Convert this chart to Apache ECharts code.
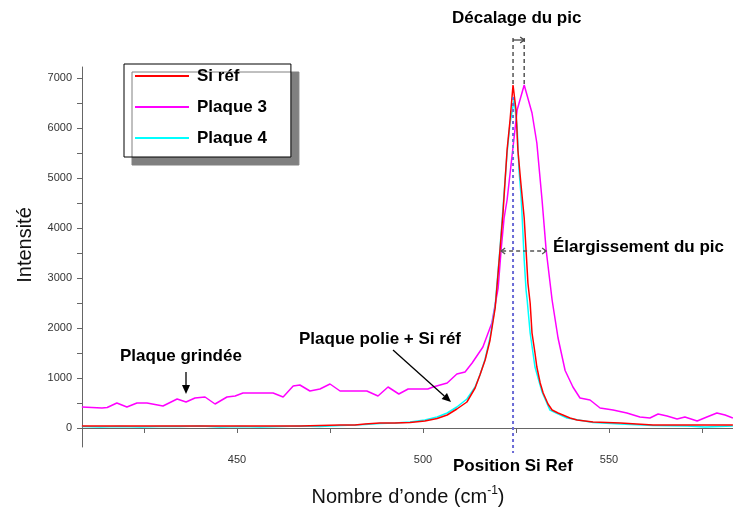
<!DOCTYPE html>
<html><head><meta charset="utf-8">
<script src="https://cdn.jsdelivr.net/npm/echarts@6/dist/echarts.min.js"></script>
<style>html,body{margin:0;padding:0;background:#fff}#c{width:733px;height:513px}</style>
</head><body><div id="c"></div>
<script>
// ---- data (wavenumber cm-1 / intensity) ----
const siRefX = [408.3,413.2,418.5,423.9,429.3,434.7,440.1,445.4,450.8,456.2,461.6,466.9,472.3,477.7,481.7,484.4,488.4,492.5,496.5,500.5,503.8,506.5,509.1,511.8,514.0,515.3,516.7,518.0,519.4,520.7,521.5,522.6,523.4,524.2,525.0,525.5,526.3,527.2,527.7,528.2,528.8,529.3,530.1,530.6,531.5,532.3,533.6,534.7,536.3,537.6,539.5,541.4,545.7,553.0,561.8,571.0,583.3];
const siRefY = [40,40,40,40,40,40,40,40,40,40,40,40,50,60,60,80,100,100,110,140,190,260,380,520,800,1060,1360,1750,2400,3560,4300,5560,6160,6860,6360,5560,4900,4200,3560,2900,2500,1900,1500,1220,900,700,480,360,300,260,200,160,120,100,60,60,60];

const plaque3X = [408.3,413.7,415.1,417.7,420.4,423.1,425.8,430.1,433.9,436.3,438.7,441.4,444.1,447.3,449.5,451.6,459.7,462.4,465.1,466.9,469.6,472.3,475.0,477.7,479.6,484.9,487.9,490.6,493.5,496.0,501.3,502.7,506.5,509.1,511.3,513.2,516.1,518.5,520.2,521.0,521.8,522.6,524.2,525.3,527.2,529.3,530.6,532.0,533.1,534.7,536.3,538.2,540.3,542.2,544.9,547.6,551.1,554.8,558.3,561.0,563.2,565.6,568.3,570.4,573.7,576.3,579.0,581.2,583.3];
const plaque3Y = [420,400,410,500,420,500,500,440,580,520,600,620,480,620,640,700,700,620,840,860,740,780,880,740,740,740,640,820,680,780,780,820,900,1080,1120,1300,1620,2100,2800,3560,4200,4560,5620,6360,6860,6300,5700,4560,3560,2560,1800,1150,820,600,560,400,360,300,220,200,280,240,180,220,140,220,300,260,200];

const plaque4X = [408.3,413.2,418.5,423.9,429.3,434.7,440.1,445.4,450.8,456.2,461.6,466.9,472.3,477.7,481.7,484.4,488.4,492.5,496.5,500.5,503.8,506.5,509.1,511.8,514.0,515.3,516.7,518.0,519.4,520.7,521.5,522.6,523.4,524.5,525.3,525.8,526.3,526.6,527.2,527.7,528.0,528.8,530.1,532.0,534.1,538.7,545.7,553.0,561.8,571.0,575.8,583.3];
const plaque4Y = [30,20,30,20,30,30,40,20,30,20,30,40,30,50,60,70,90,100,120,160,220,300,420,580,820,1060,1380,1800,2450,3600,4400,5500,6100,6560,6020,5160,4700,4300,3360,2760,2560,1900,1220,720,360,200,110,80,50,40,20,40];

const seriesNames = ['Si réf', 'Plaque 3', 'Plaque 4'];
const xTickValues = [425,450,475,500,525,550,575];
const xLabelValues = [450,500,550];
const yTickValues = [0,500,1000,1500,2000,2500,3000,3500,4000,4500,5000,5500,6000,6500,7000];
const yLabelValues = [0,1000,2000,3000,4000,5000,6000,7000];

const pairs = (xs, ys) => xs.map((v, i) => [v, ys[i]]);

const chart = echarts.init(document.getElementById('c'), null, {renderer: 'canvas'});
const FONT = '"Liberation Sans", Arial, sans-serif';
const axisCol = '#666';
const plain = v => String(v);

chart.setOption({
  animation: false,
  backgroundColor: '#fff',
  grid: {left: 82, right: 0, top: 67, bottom: 66},
  xAxis: {
    type: 'value', min: 408.33, max: 583.33,
    axisLine: {lineStyle: {color: axisCol, width: 1}},
    axisTick: {show: true, customValues: xTickValues, length: 5, lineStyle: {color: axisCol}},
    axisLabel: {customValues: xLabelValues, formatter: plain, margin: 7, fontSize: 11, color: '#333', fontFamily: FONT},
    splitLine: {show: false}
  },
  yAxis: {
    type: 'value', min: -380, max: 7220,
    axisLine: {show: true, lineStyle: {color: axisCol, width: 1}},
    axisTick: {show: true, customValues: yTickValues, length: 5, lineStyle: {color: axisCol}},
    axisLabel: {customValues: yLabelValues, formatter: plain, margin: 10, fontSize: 11, color: '#333', fontFamily: FONT},
    splitLine: {show: false}
  },
  legend: {
    orient: 'vertical', left: 124, top: 64,
    data: seriesNames,
    icon: 'rect',
    padding: [2, 24, 9, 11],
    itemGap: 11, itemWidth: 54, itemHeight: 2,
    backgroundColor: '#fff', borderColor: '#000', borderWidth: 1,
    shadowColor: '#808080', shadowOffsetX: 8, shadowOffsetY: 8, shadowBlur: 0,
    textStyle: {fontSize: 17, fontWeight: 'bold', color: '#000', fontFamily: FONT, lineHeight: 20, padding: [0,0,0,3]}
  },
  series: [
    {name: seriesNames[1], type: 'line', symbol: 'none', data: pairs(plaque3X, plaque3Y), lineStyle: {color: '#ff00ff', width: 1.5}, itemStyle: {color: '#ff00ff'}},
    {name: seriesNames[2], type: 'line', symbol: 'none', data: pairs(plaque4X, plaque4Y), lineStyle: {color: '#00ffff', width: 1.5}, itemStyle: {color: '#00ffff'}},
    {name: seriesNames[0], type: 'line', symbol: 'none', data: pairs(siRefX, siRefY), lineStyle: {color: '#ff0000', width: 1.5}, itemStyle: {color: '#ff0000'}}
  ]
});

function peak(xs, ys) {
  let k = 0; ys.forEach((v, i) => { if (v > ys[k]) k = i; });
  return chart.convertToPixel({gridIndex: 0}, [xs[k], ys[k]]);
}
const pr = peak(siRefX, siRefY);
const pm = peak(plaque3X, plaque3Y);
const halfL = chart.convertToPixel({gridIndex: 0}, [521.0, 3540]);
const halfR = chart.convertToPixel({gridIndex: 0}, [533.1, 3540]);
const bottomY = chart.convertToPixel({gridIndex: 0}, [500, -380])[1];

const gray = '#555';
function text(t, x, y, opts) {
  return {type: 'text', z: 100, style: Object.assign({text: t, x: x, y: y, fill: '#000', fontSize: 17, fontWeight: 'bold', fontFamily: FONT, align: 'left', verticalAlign: 'middle'}, opts || {})};
}
function line(x1, y1, x2, y2, st) {
  return {type: 'line', z: 90, shape: {x1, y1, x2, y2}, style: Object.assign({stroke: gray, lineWidth: 1.5}, st || {})};
}
function poly(points, st) {
  return {type: 'polyline', z: 90, shape: {points}, style: Object.assign({stroke: gray, lineWidth: 1.3, fill: null}, st || {})};
}
function arrow(x1, y1, x2, y2) {
  const dx = x2 - x1, dy = y2 - y1, L = Math.hypot(dx, dy), ux = dx / L, uy = dy / L;
  const hl = 9, hw = 4;
  const bx = x2 - ux * hl, by = y2 - uy * hl;
  return [
    line(x1, y1, bx, by, {stroke: '#000', lineWidth: 1.3}),
    {type: 'polygon', z: 90, shape: {points: [[x2, y2], [bx - uy * hw, by + ux * hw], [bx + uy * hw, by - ux * hw]]}, style: {fill: '#000'}}
  ];
}

const topY = 38;
const els = [
  {type: 'text', z: 100, x: 25, y: 245, rotation: Math.PI / 2,
   style: {text: 'Intensité', x: 0, y: 0, fill: '#111', fontSize: 20, fontFamily: FONT, align: 'center', verticalAlign: 'middle'}},
  {type: 'text', z: 100, style: {
    text: '{a|Nombre d’onde (cm}{s|-1}{a|)}', x: 408, y: 497, align: 'center', verticalAlign: 'middle',
    rich: {a: {fontSize: 20, fontFamily: FONT, fill: '#111', lineHeight: 24}, s: {fontSize: 12, fontFamily: FONT, fill: '#111', verticalAlign: 'top', padding: [0, 0, 8, 0]}}
  }},
  text('Décalage du pic', 452, 18),
  text('Élargissement du pic', 553, 247),
  text('Plaque grindée', 120, 356),
  text('Plaque polie + Si réf', 299, 339),
  text('Position Si Ref', 453, 466),
  // peak-shift guides
  line(pr[0], topY, pr[0], pr[1], {lineDash: [4, 3]}),
  line(pm[0], topY, pm[0], pm[1], {lineDash: [4, 3]}),
  line(pr[0], topY + 2, pm[0], topY + 2, {stroke: '#444', lineWidth: 1.3}),
  poly([[pm[0] - 4, topY - 1], [pm[0], topY + 2], [pm[0] - 4, topY + 5]], {stroke: '#444'}),
  // reference position line
  line(pr[0], pr[1] + 12, pr[0], bottomY + 6, {stroke: '#6b6bd6', lineWidth: 2, lineDash: [3, 3]}),
  // broadening double arrow
  line(halfL[0] + 1, halfL[1], halfR[0] - 1, halfL[1], {lineDash: [4, 3]}),
  poly([[halfL[0] + 4, halfL[1] - 3], [halfL[0], halfL[1]], [halfL[0] + 4, halfL[1] + 3]]),
  poly([[halfR[0] - 4, halfL[1] - 3], [halfR[0], halfL[1]], [halfR[0] - 4, halfL[1] + 3]])
].concat(arrow(186, 372, 186, 394), arrow(393, 350, 451, 402));

chart.setOption({graphic: {elements: els}});
</script>
</body></html>
